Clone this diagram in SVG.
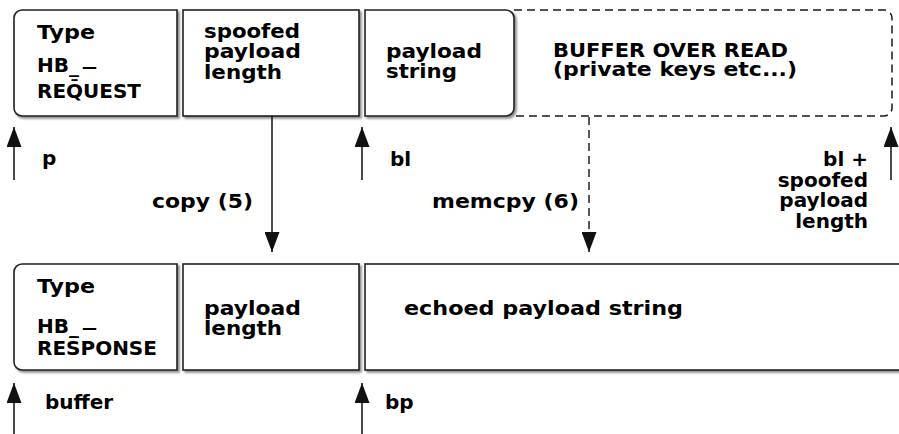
<svg xmlns="http://www.w3.org/2000/svg" width="899" height="434" viewBox="0 0 899 434">
<defs>
<style>
.box{fill:#fff;stroke:#222;stroke-width:1.6;filter:url(#sh)}
.dash{fill:none;stroke:#1a1a1a;stroke-width:1.5;stroke-dasharray:8 5}
.ln{fill:none;stroke:#111;stroke-width:1.5}
.dl{fill:none;stroke:#111;stroke-width:1.4;stroke-dasharray:8 5}
text{font-family:"DejaVu Sans","Liberation Sans",sans-serif;font-weight:bold;font-size:20px;fill:#000}
.e{text-anchor:end}
</style>
<filter id="sh" x="-5%" y="-5%" width="115%" height="120%">
<feDropShadow dx="2" dy="2" stdDeviation="1.2" flood-color="#000" flood-opacity="0.45"/>
</filter>
<marker id="ah" markerUnits="userSpaceOnUse" markerWidth="20" markerHeight="15" refX="20" refY="7.5" orient="auto">
<path d="M0,0 L20,7.5 L0,15 Z" fill="#111"/>
</marker>
</defs>
<rect width="899" height="434" fill="#fff"/>

<g id="req-type">
<path class="box" d="M22,10 H177 V116 H22 A8,8 0 0 1 14,108 V18 A8,8 0 0 1 22,10 Z"/>
<text x="37" y="39" textLength="58" lengthAdjust="spacingAndGlyphs">Type</text>
<text x="37" y="72">HB_<tspan x="82" font-size="15">—</tspan></text>
<text x="37" y="98">REQ̄UEST</text>
</g>
<g id="req-len">
<rect class="box" x="183" y="10" width="176" height="106"/>
<text x="204" y="38" textLength="96" lengthAdjust="spacingAndGlyphs">spoofed</text>
<text x="204" y="58" textLength="97" lengthAdjust="spacingAndGlyphs">payload</text>
<text x="204" y="79" textLength="78" lengthAdjust="spacingAndGlyphs">length</text>
</g>
<g id="req-payload">
<path class="box" d="M365,10 H506 A8,8 0 0 1 514,18 V108 A8,8 0 0 1 506,116 H365 Z"/>
<text x="386" y="58" textLength="96" lengthAdjust="spacingAndGlyphs">payload</text>
<text x="386" y="78" textLength="71" lengthAdjust="spacingAndGlyphs">string</text>
</g>
<g id="over-read">
<path class="dash" d="M514,10 H884 A8,8 0 0 1 892,18 V108 A8,8 0 0 1 884,116 H514"/>
<text x="553" y="57" textLength="235" lengthAdjust="spacingAndGlyphs">BUFFER OVER READ</text>
<text x="553" y="76" textLength="244" lengthAdjust="spacingAndGlyphs">(private keys etc...)</text>
</g>

<g id="resp-type">
<path class="box" d="M22,264 H177 V370 H22 A8,8 0 0 1 14,362 V272 A8,8 0 0 1 22,264 Z"/>
<text x="37" y="293" textLength="58" lengthAdjust="spacingAndGlyphs">Type</text>
<text x="37" y="333">HB_<tspan x="82" font-size="15">—</tspan></text>
<text x="37" y="355">RES̄PONSE</text>
</g>
<g id="resp-len">
<rect class="box" x="183" y="264" width="176" height="106"/>
<text x="204" y="315" textLength="97" lengthAdjust="spacingAndGlyphs">payload</text>
<text x="204" y="335" textLength="78" lengthAdjust="spacingAndGlyphs">length</text>
</g>
<g id="resp-payload">
<rect class="box" x="365" y="264" width="545" height="106"/>
<text x="404" y="315" textLength="279" lengthAdjust="spacingAndGlyphs">echoed payload string</text>
</g>

<g id="connectors">
<path class="ln" d="M14,180 V127" marker-end="url(#ah)"/>
<path class="ln" d="M362,180 V127" marker-end="url(#ah)"/>
<path class="ln" d="M891,180 V127" marker-end="url(#ah)"/>
<path class="ln" d="M272,116 V252" marker-end="url(#ah)"/>
<path class="dl" d="M589,117 V252" marker-end="url(#ah)"/>
<path class="ln" d="M14,434 V383" marker-end="url(#ah)"/>
<path class="ln" d="M362,434 V383" marker-end="url(#ah)"/>
</g>

<g id="labels">
<text x="42" y="165">p</text>
<text x="390" y="166">bl</text>
<text x="152" y="208" textLength="101" lengthAdjust="spacingAndGlyphs">copy (5)</text>
<text x="432" y="208" textLength="147" lengthAdjust="spacingAndGlyphs">memcpy (6)</text>
<text class="e" x="868" y="166">bl +</text>
<text class="e" x="868" y="187">spoofed</text>
<text class="e" x="868" y="207">payload</text>
<text class="e" x="868" y="228">length</text>
<text x="45" y="409">buffer</text>
<text x="385" y="409">bp</text>
</g>
</svg>
